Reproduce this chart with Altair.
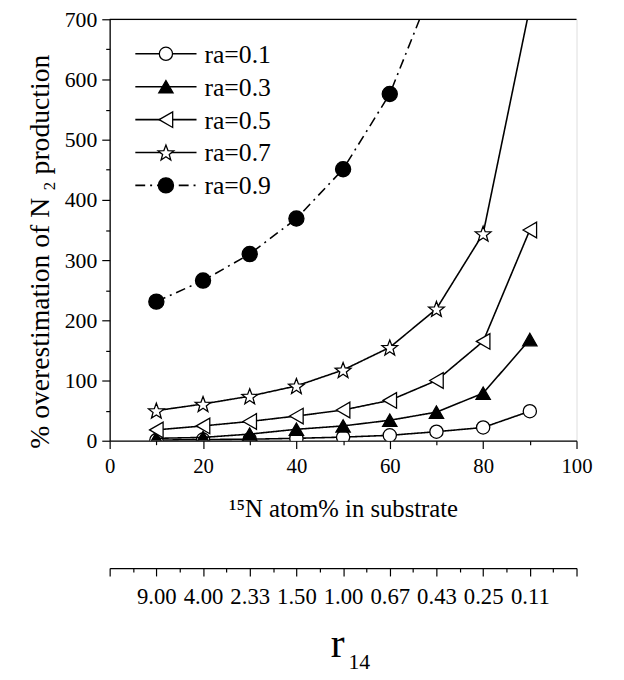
import math
import altair as alt
import pandas as pd

# ---------------- data ----------------
x_pct = [10, 20, 30, 40, 50, 60, 70, 80, 90]
series = ["ra=0.1", "ra=0.3", "ra=0.5", "ra=0.7", "ra=0.9"]
ra01 = [1, 2, 2.5, 4, 6, 9, 15, 22, 49]
ra03 = [4, 5.5, 11, 19, 24.6, 34, 47.5, 79, 168]
ra05 = [18, 24.6, 32, 41, 51, 67, 100, 165, 350]
ra07 = [50, 61, 74, 91, 117.5, 155, 219, 344, 720]
x_ra09 = [10, 20, 30, 40, 50, 60, 70]
ra09 = [231, 266, 310, 369, 451, 576, 770]
r14_labels = ["9.00", "4.00", "2.33", "1.50", "1.00", "0.67", "0.43", "0.25", "0.11"]
y_major = [0, 100, 200, 300, 400, 500, 600, 700]
y_minor = [50, 150, 250, 350, 450, 550, 650]

# ---------------- styles ----------------
W, H = 473, 427
FONT = "Liberation Serif"


def star_path():
    pts = []
    for i in range(10):
        a = math.radians(-90 + 36 * i)
        r = 1.0 if i % 2 == 0 else 0.42
        pts.append(f"{r*math.cos(a):.3f},{r*math.sin(a)+0.1:.3f}")
    return "M" + " L".join(pts) + " Z"


shapes = ["circle", "triangle-up", "triangle-left", star_path(), "circle"]
fills = ["white", "black", "white", "white", "black"]
sizes = [180, 210, 250, 280, 235]
dashes = [[1, 0], [1, 0], [1, 0], [1, 0], [10, 5, 2, 5]]

rows = []
for name, xs_, ys_ in zip(series, [x_pct] * 4 + [x_ra09], [ra01, ra03, ra05, ra07, ra09]):
    for a, b in zip(xs_, ys_):
        rows.append({"series": name, "x": a, "y": b})
df = pd.DataFrame(rows)

xscale = alt.Scale(domain=[0, 100], nice=False)
yscale = alt.Scale(domain=[0, 700], nice=False)

common = dict(domainColor="black", tickColor="black", labelColor="black", titleColor="black",
              domainWidth=1.3, tickWidth=1.2, grid=False, labelOverlap=False,
              labelFlush=False, labelBound=False)

x_axis = alt.Axis(
    orient="bottom",
    values=list(range(0, 101, 10)),
    labelExpr="datum.value % 20 === 0 ? datum.label : ''",
    tickSize={"condition": {"test": "datum.value % 20 === 0", "value": 8}, "value": 4},
    title="¹⁵N atom% in substrate",
    titleFont=FONT, titleFontSize=25, titleFontWeight="normal", titlePadding=21,
    labelFont=FONT, labelFontSize=21, labelPadding=7, **common,
)
y_axis = alt.Axis(
    orient="left",
    values=y_major, tickSize=8,
    title="% overestimation of N ₂ production",
    titleFont=FONT, titleFontSize=28, titleFontWeight="normal", titlePadding=10,
    titleY=235,
    labelFont=FONT, labelFontSize=22, labelPadding=5, **common,
)
y_minor_axis = alt.Axis(
    orient="left", values=y_minor, tickSize=4, labels=False, domain=False, title=None,
    tickColor="black", tickWidth=1.2, grid=False,
)

r14_arr = "[" + ",".join(["''"] + [f"'{s}'" for s in r14_labels] + ["''"]) + "]"
sec_axis = alt.Axis(
    orient="bottom", offset=129,
    values=list(range(0, 101, 5)),
    labelExpr=f"datum.value % 10 === 0 ? {r14_arr}[datum.value/10] : ''",
    tickSize={"condition": {"test": "datum.value % 10 === 0", "value": 8}, "value": 4},
    title=None,
    labelFont=FONT, labelFontSize=23, labelPadding=10,
    domainColor="black", tickColor="black", labelColor="black",
    domainWidth=1.3, tickWidth=1.2, grid=False, labelOverlap=False,
    labelFlush=False, labelBound=False,
)

layers = []

# axis carrier layers (invisible)
layers.append(alt.Chart(df).mark_point(opacity=0).encode(
    x=alt.X("x:Q", scale=xscale, axis=x_axis),
    y=alt.Y("y:Q", scale=yscale, axis=y_axis),
))
layers.append(alt.Chart(df).mark_point(opacity=0).encode(
    x=alt.X("x:Q", scale=xscale, axis=None),
    y=alt.Y("y:Q", scale=yscale, axis=y_minor_axis),
))

for i, name in enumerate(series):
    sub = df[df.series == name]
    base = alt.Chart(sub)
    line = base.mark_line(color="black", strokeWidth=1.6, strokeDash=dashes[i], clip=True).encode(
        x=alt.X("x:Q", scale=xscale, axis=None),
        y=alt.Y("y:Q", scale=yscale, axis=None),
    )
    pts = base.mark_point(shape=shapes[i], size=sizes[i], filled=True, fill=fills[i],
                          stroke="black", strokeWidth=1.3, opacity=1, clip=True).encode(
        x=alt.X("x:Q", scale=xscale, axis=None),
        y=alt.Y("y:Q", scale=yscale, axis=None),
    )
    layers += [line, pts]

# top frame
frame = alt.Chart(pd.DataFrame({"a": [0]})).mark_rule(color="black", strokeWidth=1.3).encode(
    x=alt.X(datum=0, scale=xscale, axis=None),
    x2=alt.X2(datum=100),
    y=alt.Y(datum=700, scale=yscale, axis=None),
)
layers.append(frame)

# secondary r14 axis
r14_df = pd.DataFrame({"x": x_pct, "r14": r14_labels})
sec = alt.Chart(r14_df).mark_point(opacity=0).encode(
    x=alt.X("x:Q", scale=xscale, axis=sec_axis),
    y=alt.Y(datum=0, scale=yscale, axis=None),
)
layers.append(sec)

# legend (data-space positions computed from layout)
leg_rows_px = [35, 68.3, 101.7, 135, 168.3]
px2y = lambda p: 700 * (1 - p / H)
px2x = lambda p: 100 * p / W
leg_x0, leg_x1, leg_xs, leg_xt = px2x(26), px2x(88), px2x(57), px2x(96)
for i, name in enumerate(series):
    ly = px2y(leg_rows_px[i])
    ld = pd.DataFrame({"x": [leg_x0, leg_x1], "y": [ly, ly], "series": [name, name]})
    layers.append(alt.Chart(ld).mark_line(color="black", strokeWidth=1.6, strokeDash=dashes[i]).encode(
        x=alt.X("x:Q", scale=xscale, axis=None), y=alt.Y("y:Q", scale=yscale, axis=None)))
    sd = pd.DataFrame({"x": [leg_xs], "y": [ly], "series": [name]})
    layers.append(alt.Chart(sd).mark_point(shape=shapes[i], size=sizes[i], filled=True, fill=fills[i],
                                           stroke="black", strokeWidth=1.3, opacity=1).encode(
        x=alt.X("x:Q", scale=xscale, axis=None), y=alt.Y("y:Q", scale=yscale, axis=None)))
    td = pd.DataFrame({"x": [leg_xt], "y": [ly], "series": [name]})
    layers.append(alt.Chart(td).mark_text(align="left", baseline="middle", font=FONT, fontSize=26,
                                          color="black", dy=1).encode(
        x=alt.X("x:Q", scale=xscale, axis=None), y=alt.Y("y:Q", scale=yscale, axis=None),
        text="series:N"))

# r14 title
r_t = alt.Chart(pd.DataFrame({"t": ["r"]})).mark_text(
    font=FONT, fontSize=42, align="center", baseline="alphabetic", color="black").encode(
    x=alt.value(231), y=alt.value(646), text="t:N")
sub_t = alt.Chart(pd.DataFrame({"t": ["14"]})).mark_text(
    font=FONT, fontSize=22, align="left", baseline="alphabetic", color="black").encode(
    x=alt.value(242), y=alt.value(658), text="t:N")
layers += [r_t, sub_t]

chart = alt.layer(*layers).resolve_axis(x="independent", y="independent").properties(
    width=W, height=H,
    autosize=alt.AutoSizeParams(type="none"),
    padding={"left": 103, "top": 7, "right": 40, "bottom": 238},
).configure_view(stroke=None).configure(background="white")

chart.save("out.html", embed_options={"renderer": "svg", "actions": False})
